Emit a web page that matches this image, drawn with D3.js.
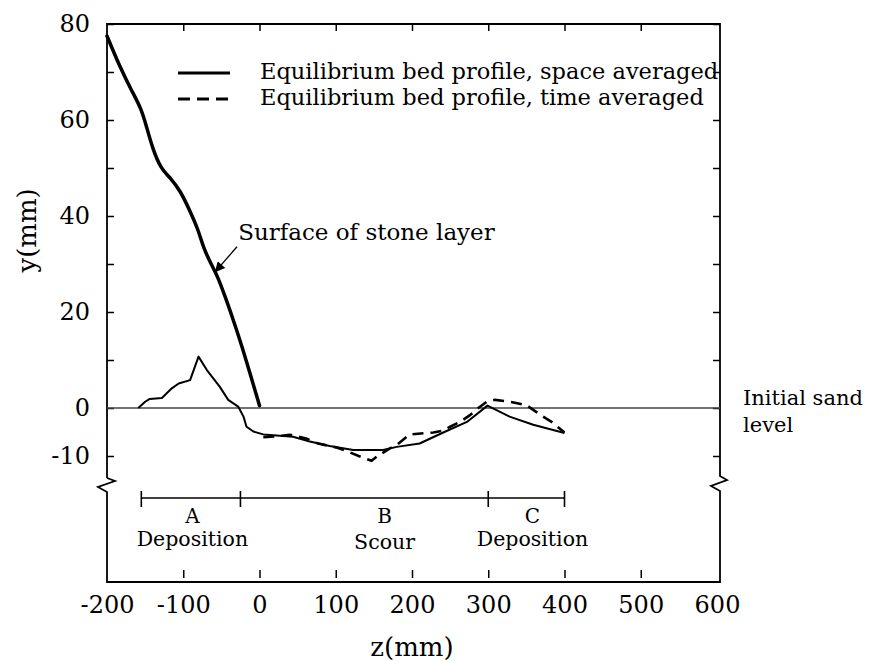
<!DOCTYPE html>
<html>
<head>
<meta charset="utf-8">
<script src="https://cdn.jsdelivr.net/npm/d3@7"></script>
<style>
body { margin: 0; background: #fff; }
text { font-family: "DejaVu Serif", serif; fill: #000; }
</style>
</head>
<body>
<script>
var width = 869;
var height = 661;

// surface of the stone layer (thick line), [z, y] in mm
const stoneSurface = [[-200,77.5],[-183,71],[-168,66.2],[-155,62.4],[-148,58.5],[-140,54],
  [-130,50],[-116,47.8],[-104,45.3],[-91,41],[-80,37],[-74,33.5],[-62,29.5],[-55,27.5],
  [-43,22.3],[-38,20],[-25,14],[0,0.5]];

// equilibrium bed profile, space averaged (thin solid)
const bedSpace = [[-159,0],[-150,1.3],[-144,1.9],[-128,2.1],[-124,2.7],[-115,4.1],[-106,5.1],
  [-91,5.8],[-80,10.7],[-69,7.9],[-52,4.4],[-41,1.7],[-28,0.3],[-21,-1.8],[-17,-3.9],
  [-8,-4.9],[5,-5.5],[44,-6],[66,-7],[92,-7.9],[123,-8.75],[162,-8.75],[180,-8.1],
  [210,-7.4],[241,-5.1],[272,-2.9],[299,0.5],[328,-1.8],[359,-3.5],[400,-5.2]];

// equilibrium bed profile, time averaged (dashed)
const bedTime = [[5,-6.1],[22,-5.9],[40,-5.6],[52,-6],[62,-6.4],[77,-7.4],[100,-8.2],[112,-8.8],
  [130,-10],[147,-11],[154,-10.1],[171,-8.4],[180,-7.7],[197,-5.5],[228,-5.1],[241,-4.7],
  [250,-3.9],[263,-2.9],[276,-1.5],[287,0],[298,1.3],[309,1.7],[324,1.4],[335,1.1],
  [350,0.6],[359,-0.4],[372,-1.8],[383,-2.9],[400,-5.1]];

const xTickValues = [-200,-100,0,100,200,300,400,500,600];
const yTickValues = [-10,0,10,20,30,40,50,60,70,80];
const yTickLabels = {"-10":"-10", "0":"0", "20":"20", "40":"40", "60":"60", "80":"80"};

const zoneEdges = [-155, -25, 300, 400];
const zoneLetters = ["A", "B", "C"];
const zoneWords = ["Deposition", "Scour", "Deposition"];
const zoneLabelZ = [-88, 164, 358];

const legendNames = ["Equilibrium bed profile, space averaged", "Equilibrium bed profile, time averaged"];

// annotation: text anchor, arrow tail, arrow tip, in data units
const noteText = "Surface of stone layer";
const notePos = [-28, 35];
const arrowFrom = [-29.5, 33.6];
const arrowTo = [-58.5, 28.3];

var svg = d3.select("body").append("svg")
    .attr("width", width)
    .attr("height", height);

var x = d3.scaleLinear().domain([-200, 600]).range([107, 717]);
var y = d3.scaleLinear().domain([-10, 80]).range([456, 24]);

var pLeft = 107, pRight = 720, pTop = 24, pBottom = 582, brk = 482;

// frame with breaks in the side axes
var frame = d3.path();
frame.moveTo(pLeft, brk - 4); frame.lineTo(pLeft, pTop); frame.lineTo(pRight, pTop); frame.lineTo(pRight, brk - 6);
frame.lineTo(pRight + 7, brk - 2); frame.lineTo(pRight - 9, brk + 4); frame.lineTo(pRight, brk + 9);
frame.lineTo(pRight, pBottom); frame.lineTo(pLeft, pBottom); frame.lineTo(pLeft, brk + 10);
frame.lineTo(pLeft - 9, brk + 5); frame.lineTo(pLeft + 8, brk - 1); frame.lineTo(pLeft, brk - 4);
svg.append("path").attr("d", frame.toString())
    .attr("fill", "none").attr("stroke", "#000").attr("stroke-width", 1.8)
    .attr("stroke-linejoin", "miter");

// ticks
function styleAxis(g) {
    g.select(".domain").remove();
    g.selectAll(".tick line").attr("stroke", "#000").attr("stroke-width", 1.5);
    g.selectAll("text").style("font-family", "DejaVu Serif").style("font-size", "24px").attr("fill", "#000");
}
svg.append("g").attr("transform", `translate(${pLeft},0)`)
    .call(d3.axisLeft(y).tickValues(yTickValues).tickSize(-7).tickPadding(17)
        .tickFormat(d => yTickLabels[d] || ""))
    .call(styleAxis);
svg.append("g").attr("transform", `translate(${pRight},0)`)
    .call(d3.axisRight(y).tickValues(yTickValues).tickSize(-7).tickFormat(""))
    .call(styleAxis);
svg.append("g").attr("transform", `translate(0,${pTop})`)
    .call(d3.axisTop(x).tickValues(xTickValues.slice(1, -1)).tickSize(-7).tickFormat(""))
    .call(styleAxis);
svg.append("g").attr("transform", `translate(0,${pBottom - 4})`)
    .call(d3.axisBottom(x).tickValues(xTickValues.slice(1, -1)).tickSize(-8).tickFormat(""))
    .call(styleAxis);
svg.append("g").attr("transform", `translate(0,${pBottom})`)
    .call(d3.axisBottom(x).tickValues(xTickValues).tickSize(0).tickPadding(14)
        .tickFormat(d => String(d)))
    .call(styleAxis);

// initial sand level
svg.append("line")
    .attr("x1", pLeft).attr("x2", pRight)
    .attr("y1", y(0)).attr("y2", y(0))
    .attr("stroke", "#444").attr("stroke-width", 1.3);

var line = d3.line().x(d => x(d[0])).y(d => y(d[1]));

svg.append("path")
    .attr("d", line.curve(d3.curveBasis)(stoneSurface))
    .attr("fill", "none").attr("stroke", "#000").attr("stroke-width", 3.5)
    .attr("stroke-linecap", "round");

line.curve(d3.curveLinear);
svg.append("path").datum(bedSpace)
    .attr("d", line)
    .attr("fill", "none").attr("stroke", "#000").attr("stroke-width", 2)
    .attr("stroke-linejoin", "round");

svg.append("path").datum(bedTime)
    .attr("d", line)
    .attr("fill", "none").attr("stroke", "#000").attr("stroke-width", 2.6)
    .attr("stroke-dasharray", "11,7");

// legend
var legend = svg.append("g");
legendNames.forEach(function(name, i) {
    var ly = 73 + i * 26;
    legend.append("line")
        .attr("x1", 178).attr("x2", 230).attr("y1", ly).attr("y2", ly)
        .attr("stroke", "#000").attr("stroke-width", 3)
        .attr("stroke-dasharray", i ? "12,7" : null);
    legend.append("text")
        .attr("x", 260).attr("y", ly + 6)
        .style("font-size", "22.5px")
        .text(name);
});

// annotation with arrow
svg.append("defs").append("marker")
    .attr("id", "arrow").attr("viewBox", "0 0 10 10")
    .attr("refX", 10).attr("refY", 5)
    .attr("markerWidth", 15).attr("markerHeight", 10)
    .attr("markerUnits", "userSpaceOnUse")
    .attr("orient", "auto")
    .append("path").attr("d", "M0,0L10,5L0,10z").attr("fill", "#000");

svg.append("line")
    .attr("x1", x(arrowFrom[0])).attr("y1", y(arrowFrom[1]))
    .attr("x2", x(arrowTo[0])).attr("y2", y(arrowTo[1]))
    .attr("stroke", "#000").attr("stroke-width", 1.3)
    .attr("marker-end", "url(#arrow)");

svg.append("text")
    .attr("x", x(notePos[0])).attr("y", y(notePos[1]))
    .style("font-size", "23px")
    .text(noteText);

svg.append("text")
    .attr("x", 743).attr("y", y(0) - 3)
    .style("font-size", "21px")
    .text("Initial sand");
svg.append("text")
    .attr("x", 743).attr("y", y(0) + 24)
    .style("font-size", "21px")
    .text("level");

// zones A, B, C
var zoneY = 498;
svg.append("line")
    .attr("x1", x(zoneEdges[0])).attr("x2", x(zoneEdges[zoneEdges.length - 1]))
    .attr("y1", zoneY).attr("y2", zoneY)
    .attr("stroke", "#000").attr("stroke-width", 1.6);
svg.selectAll(".zone-tick").data(zoneEdges).enter().append("line")
    .attr("class", "zone-tick")
    .attr("x1", d => x(d)).attr("x2", d => x(d))
    .attr("y1", zoneY - 7).attr("y2", zoneY + 9)
    .attr("stroke", "#000").attr("stroke-width", 1.6);
svg.selectAll(".zone-letter").data(zoneLetters).enter().append("text")
    .attr("class", "zone-letter")
    .attr("x", (d, i) => x(zoneLabelZ[i])).attr("y", 523)
    .attr("text-anchor", "middle")
    .style("font-size", "20px")
    .text(d => d);
svg.selectAll(".zone-word").data(zoneWords).enter().append("text")
    .attr("class", "zone-word")
    .attr("x", (d, i) => x(zoneLabelZ[i])).attr("y", (d, i) => i == 1 ? 549 : 546)
    .attr("text-anchor", "middle")
    .style("font-size", "20.5px")
    .text(d => d);

// axis titles
svg.append("text")
    .attr("x", x(200)).attr("y", 656)
    .attr("text-anchor", "middle")
    .style("font-size", "26px")
    .text("z(mm)");
svg.append("text")
    .attr("transform", `translate(36,${y(37)}) rotate(-90)`)
    .attr("text-anchor", "middle")
    .style("font-size", "26px")
    .text("y(mm)");
</script>
</body>
</html>
